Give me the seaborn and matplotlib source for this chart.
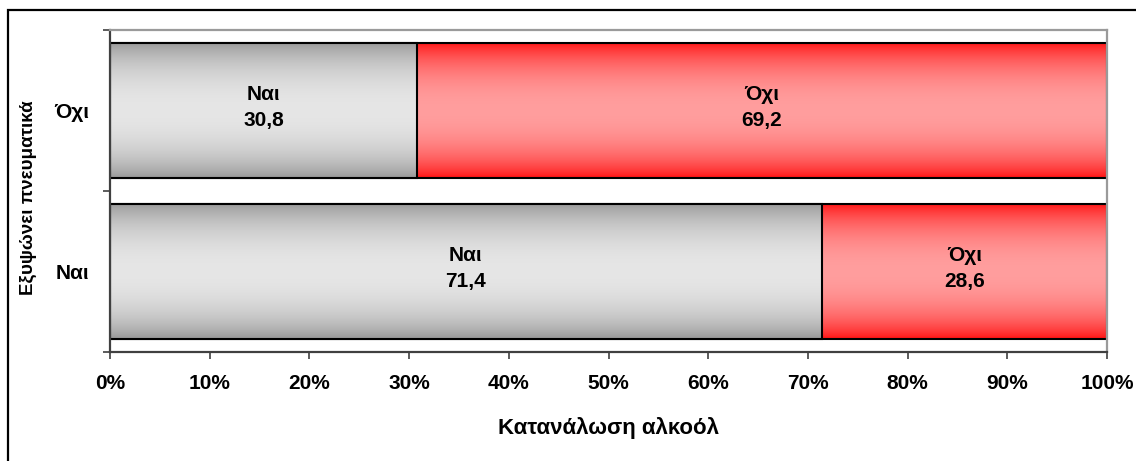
import numpy as np
import pandas as pd
import matplotlib
matplotlib.use("Agg")
import matplotlib.pyplot as plt
import matplotlib.patches as mpatches
import seaborn as sns

# Data
categories = ["Όχι", "Ναι"]          # top to bottom
yes_values = [30.8, 71.4]            # Κατανάλωση αλκοόλ: Ναι
no_values = [69.2, 28.6]             # Κατανάλωση αλκοόλ: Όχι
segment_names = ["Ναι", "Όχι"]
x_ticks = [0, 10, 20, 30, 40, 50, 60, 70, 80, 90, 100]
x_label = "Κατανάλωση αλκοόλ"
y_label = "Εξυψώνει πνευματικά"

sns.set_style("white")
plt.rcParams["font.family"] = ["Liberation Sans", "DejaVu Sans"]
plt.rcParams["font.weight"] = "bold"
plt.rcParams["text.color"] = "black"
plt.rcParams["axes.labelcolor"] = "black"
plt.rcParams["xtick.color"] = "black"
plt.rcParams["ytick.color"] = "black"

FS = 15

df = pd.DataFrame({"cat": categories, "yes": yes_values, "no": no_values})
df["total"] = df["yes"] + df["no"]

fig = plt.figure(figsize=(11.36, 4.61), dpi=100)
ax = fig.add_axes([110 / 1136, 1 - 352 / 461, (1107 - 110) / 1136, (352 - 30) / 461])

sns.barplot(data=df, x="total", y="cat", order=categories, color="#ff2020",
            width=0.84, ax=ax, edgecolor="black", linewidth=1.5, saturation=1)
n_red = len(ax.patches)
sns.barplot(data=df, x="yes", y="cat", order=categories, color="#a0a0a0",
            width=0.84, ax=ax, edgecolor="black", linewidth=1.5, saturation=1)

ax.set_xlim(0, 100)
ax.set_ylim(1.5, -0.5)
xlim, ylim = ax.get_xlim(), ax.get_ylim()

def gradient(edge, mid, n=256):
    t = np.linspace(0, 1, n)
    f = 1 - (2 * t - 1) ** 2
    f = f ** 0.8
    edge = np.array(edge) / 255.0
    mid = np.array(mid) / 255.0
    return (edge[None, :] * (1 - f[:, None]) + mid[None, :] * f[:, None])[:, None, :]

red_grad = gradient((255, 16, 16), (255, 158, 158))
gray_grad = gradient((150, 150, 150), (230, 230, 230))

for i, p in enumerate(ax.patches):
    grad = red_grad if i < n_red else gray_grad
    x0, y0 = p.get_x(), p.get_y()
    w, h = p.get_width(), p.get_height()
    im = ax.imshow(grad, extent=[x0, x0 + w, y0 + h, y0], aspect="auto",
                   zorder=p.get_zorder() + 0.1 + (0.5 if i >= n_red else 0),
                   interpolation="bilinear")
    im.set_clip_path(p)
    p.set_facecolor("none")
    p.set_zorder(p.get_zorder() + 0.2 + (0.5 if i >= n_red else 0))

ax.set_xlim(xlim)
ax.set_ylim(ylim)

# Segment labels
for yi, (yv, nv) in enumerate(zip(yes_values, no_values)):
    ax.text(yv / 2, yi - 0.02, f"{segment_names[0]}\n{str(yv).replace('.', ',')}",
            ha="center", va="center", fontsize=FS, fontweight="bold",
            linespacing=1.45, zorder=10, color="black")
    ax.text(yv + nv / 2, yi - 0.02, f"{segment_names[1]}\n{str(nv).replace('.', ',')}",
            ha="center", va="center", fontsize=FS, fontweight="bold",
            linespacing=1.45, zorder=10, color="black")

ax.set_xticks(x_ticks)
ax.set_xticklabels([f"{t}%" for t in x_ticks], fontsize=FS, fontweight="bold")
ax.set_yticks([-0.5, 0.5, 1.5], minor=False)
ax.set_yticklabels([])
ax.set_yticks([0, 1], minor=True)
ax.set_yticklabels(categories, minor=True, fontsize=FS, fontweight="bold")
ax.tick_params(axis="y", which="major", length=5, width=1.2, color="#404040", direction="out", left=True)
ax.tick_params(axis="y", which="minor", length=0, pad=15)
ax.tick_params(axis="x", length=5, width=1.2, color="#404040", direction="out", bottom=True, pad=11,
               labelcolor="black")

ax.set_xlabel(x_label, fontsize=16, fontweight="bold", labelpad=17, color="black")
ax.set_ylabel(y_label, fontsize=13.5, fontweight="bold", color="black")
ax.yaxis.set_label_coords((28 - 110) / 997, 0.48)
ax.yaxis.label.set_verticalalignment("center")

for side in ["left", "bottom"]:
    ax.spines[side].set_color("#404040")
    ax.spines[side].set_linewidth(1.6)
for side in ["top", "right"]:
    ax.spines[side].set_color("#9a9a9a")
    ax.spines[side].set_linewidth(1.6)
    ax.spines[side].set_visible(True)

# Outer chart border (left and top edges visible)
border = mpatches.Rectangle((8 / 1136, -0.2), 1.5, 1.2 - 10 / 461,
                            transform=fig.transFigure, fill=False,
                            edgecolor="black", linewidth=1.6)
fig.add_artist(border)

fig.savefig("out.png", dpi=100)
